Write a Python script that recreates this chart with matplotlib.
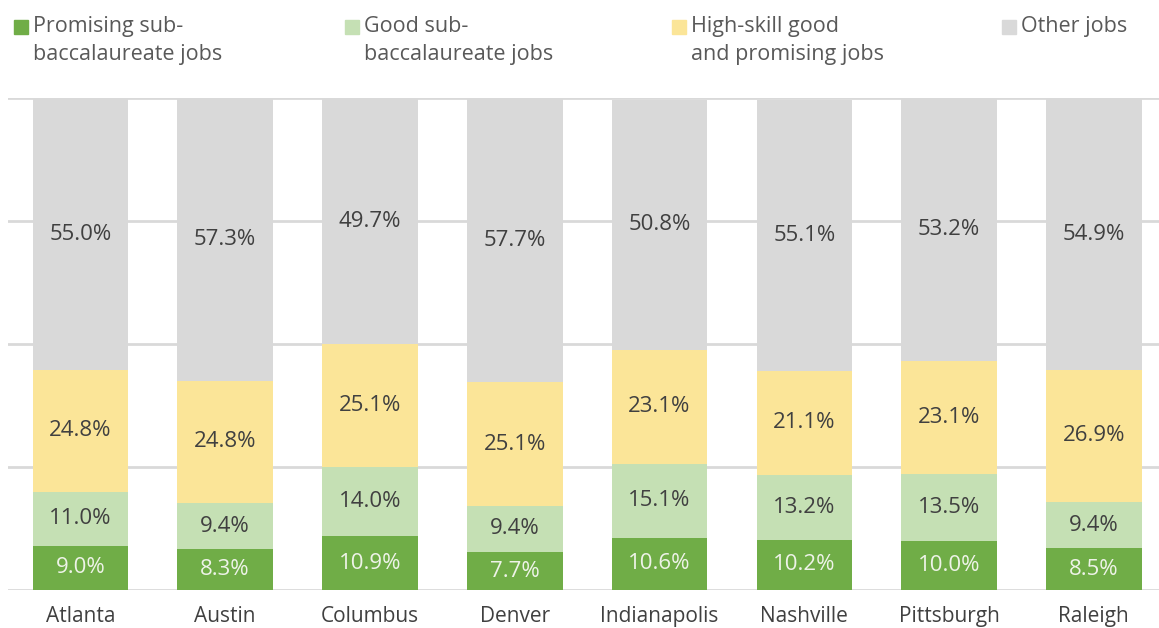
import matplotlib.pyplot as plt
from matplotlib.patches import Rectangle

# Данные
cities = ['Atlanta', 'Austin', 'Columbus', 'Denver', 'Indianapolis', 'Nashville', 'Pittsburgh', 'Raleigh']
promising_sub = [9.0, 8.3, 10.9, 7.7, 10.6, 10.2, 10.0, 8.5]
good_sub = [11.0, 9.4, 14.0, 9.4, 15.1, 13.2, 13.5, 9.4]
high_skill = [24.8, 24.8, 25.1, 25.1, 23.1, 21.1, 23.1, 26.9]
other = [55.0, 57.3, 49.7, 57.7, 50.8, 55.1, 53.2, 54.9]

series_names = ['Promising sub-\nbaccalaureate jobs', 'Good sub-\nbaccalaureate jobs',
                'High-skill good\nand promising jobs', 'Other jobs']
colors = ['#70AD47', '#C5E0B4', '#FBE598', '#D9D9D9']
label_colors = ['#EEF3E8', '#404040', '#404040', '#404040']

plt.rcParams['font.family'] = ['Open Sans', 'DejaVu Sans']

fig = plt.figure(figsize=(11.59, 6.28), dpi=100)
ax = fig.add_axes([8 / 1159, 38 / 628, 1151 / 1159, 492 / 628])

x = list(range(len(cities)))
bottom = [0.0] * len(cities)
for vals, col, lcol in zip([promising_sub, good_sub, high_skill, other], colors, label_colors):
    bars = ax.bar(x, vals, width=0.66, bottom=bottom, color=col, zorder=3)
    ax.bar_label(bars, labels=[f'{v:.1f}%' for v in vals], label_type='center',
                 color=lcol, fontsize=16)
    bottom = [b + v for b, v in zip(bottom, vals)]

ax.set_xlim(-0.5, 7.45)
ax.set_ylim(0, 100)
ax.set_yticks([0, 25, 50, 75, 100])
ax.yaxis.grid(True, color='#D9D9D9', linewidth=2, zorder=0)
ax.tick_params(axis='y', left=False, labelleft=False)
ax.tick_params(axis='x', bottom=False, pad=8, labelsize=15, labelcolor='#404040')
ax.set_xticks(x)
ax.set_xticklabels(cities)
for s in ax.spines.values():
    s.set_visible(False)

# Легенда вручную
leg_x = [14, 345, 672, 1002]
for lx, name, col in zip(leg_x, series_names, colors):
    fig.patches.append(Rectangle((lx / 1159, 1 - 34 / 628), 14 / 1159, 14 / 628,
                                 transform=fig.transFigure, color=col, figure=fig))
    fig.text((lx + 19) / 1159, 1 - 16 / 628, name, fontsize=15.5, color='#595959',
             va='top', ha='left', linespacing=1.45)

fig.savefig('out.png', dpi=100)
